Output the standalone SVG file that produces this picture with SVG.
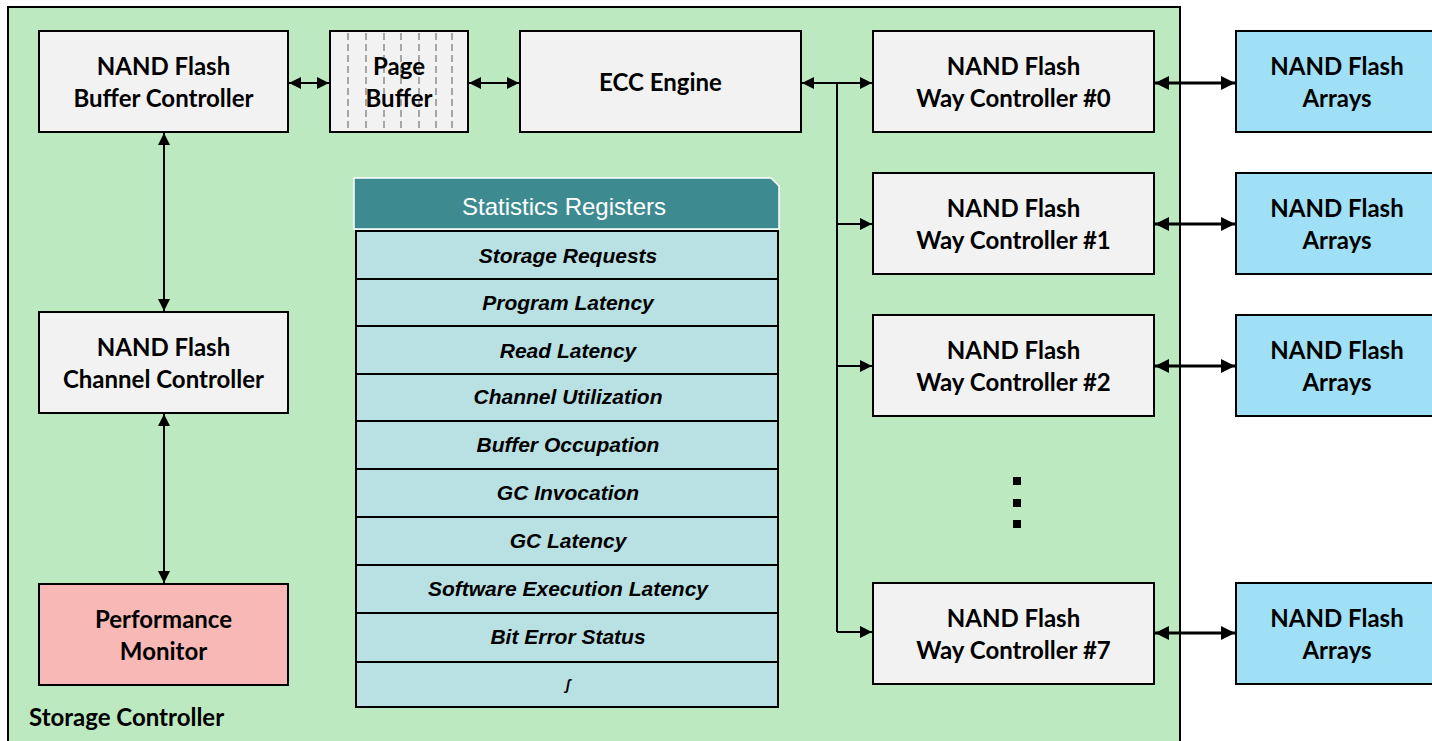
<svg xmlns="http://www.w3.org/2000/svg" width="1432" height="741" viewBox="0 0 1432 741">
<defs>
<marker id="ah" viewBox="0 0 12 12" refX="12" refY="6" markerWidth="12" markerHeight="12" markerUnits="userSpaceOnUse" orient="auto-start-reverse">
<path d="M0,0 L12,6 L0,12 Z" fill="#000"/>
</marker>
<marker id="ahb" viewBox="0 0 14 14" refX="14" refY="7" markerWidth="14" markerHeight="14" markerUnits="userSpaceOnUse" orient="auto-start-reverse">
<path d="M0,0 L14,7 L0,14 Z" fill="#000"/>
</marker>
<style>
.box{fill:#f2f2f2;stroke:#000;stroke-width:2}
.arr{fill:#9fe0f6;stroke:#000;stroke-width:2}
.pm{fill:#f8b8b6;stroke:#000;stroke-width:2}
.t{font-family:Lato,"Liberation Sans",sans-serif;font-weight:bold;font-size:24px;fill:#000;text-anchor:middle}
.r{font-family:"Liberation Sans",Arial,sans-serif;font-weight:bold;font-style:italic;font-size:21px;fill:#000;text-anchor:middle}
.row{fill:#b9e0e3;stroke:#000;stroke-width:2}
.c{fill:none;stroke:#000;stroke-width:2}
.cb{fill:none;stroke:#000;stroke-width:3}
.dash{stroke:#a6a6a6;stroke-width:2;stroke-dasharray:7,4}
</style>
</defs>
<rect width="1432" height="741" fill="#fff"/>
<g id="storage-controller">
<rect x="8" y="7" width="1172" height="745" fill="#bde9c1" stroke="#000" stroke-width="2"/>
<text x="29" y="726" style="font-family:Lato,'Liberation Sans',sans-serif;font-weight:bold;font-size:24px">Storage Controller</text>
</g>
<g id="buffer-controller">
<rect class="box" x="39" y="31" width="249" height="101"/>
<text class="t" x="163.5" y="75">NAND Flash</text>
<text class="t" x="163.5" y="107">Buffer Controller</text>
</g>
<g id="page-buffer">
<rect class="box" x="330" y="31" width="138" height="101"/>
<line class="dash" x1="348" y1="33" x2="348" y2="130"/>
<line class="dash" x1="366" y1="33" x2="366" y2="130"/>
<line class="dash" x1="384" y1="33" x2="384" y2="130"/>
<line class="dash" x1="401" y1="33" x2="401" y2="130"/>
<line class="dash" x1="419" y1="33" x2="419" y2="130"/>
<line class="dash" x1="436" y1="33" x2="436" y2="130"/>
<line class="dash" x1="452" y1="33" x2="452" y2="130"/>
<text class="t" x="399" y="75">Page</text>
<text class="t" x="399" y="107">Buffer</text>
</g>
<g id="ecc-engine">
<rect class="box" x="520" y="31" width="281" height="101"/>
<text class="t" x="660.5" y="91">ECC Engine</text>
</g>
<g id="way0">
<rect class="box" x="873" y="31" width="281" height="101"/>
<text class="t" x="1013.5" y="75">NAND Flash</text>
<text class="t" x="1013.5" y="107">Way Controller #0</text>
</g>
<g id="way1">
<rect class="box" x="873" y="173" width="281" height="101"/>
<text class="t" x="1013.5" y="217">NAND Flash</text>
<text class="t" x="1013.5" y="249">Way Controller #1</text>
</g>
<g id="way2">
<rect class="box" x="873" y="315" width="281" height="101"/>
<text class="t" x="1013.5" y="359">NAND Flash</text>
<text class="t" x="1013.5" y="391">Way Controller #2</text>
</g>
<g id="way7">
<rect class="box" x="873" y="583" width="281" height="101"/>
<text class="t" x="1013.5" y="627">NAND Flash</text>
<text class="t" x="1013.5" y="659">Way Controller #7</text>
</g>
<g id="arrays0">
<rect class="arr" x="1236" y="31" width="200" height="101"/>
<text class="t" x="1337" y="75">NAND Flash</text>
<text class="t" x="1337" y="107">Arrays</text>
</g>
<g id="arrays1">
<rect class="arr" x="1236" y="173" width="200" height="101"/>
<text class="t" x="1337" y="217">NAND Flash</text>
<text class="t" x="1337" y="249">Arrays</text>
</g>
<g id="arrays2">
<rect class="arr" x="1236" y="315" width="200" height="101"/>
<text class="t" x="1337" y="359">NAND Flash</text>
<text class="t" x="1337" y="391">Arrays</text>
</g>
<g id="arrays7">
<rect class="arr" x="1236" y="583" width="200" height="101"/>
<text class="t" x="1337" y="627">NAND Flash</text>
<text class="t" x="1337" y="659">Arrays</text>
</g>
<g id="channel-controller">
<rect class="box" x="39" y="312" width="249" height="101"/>
<text class="t" x="163.5" y="356">NAND Flash</text>
<text class="t" x="163.5" y="388">Channel Controller</text>
</g>
<g id="performance-monitor">
<rect class="pm" x="39" y="584" width="249" height="101"/>
<text class="t" x="163.5" y="628">Performance</text>
<text class="t" x="163.5" y="660">Monitor</text>
</g>
<g id="statistics-registers">
<path d="M354,178 L771,178 L779,186 L779,229 L354,229 Z" fill="#3d8b91" stroke="#fff" stroke-width="1.5"/>
<text x="564" y="215" style="font-family:'Liberation Sans',Arial,sans-serif;font-size:24px;fill:#fff;text-anchor:middle">Statistics Registers</text>
<rect class="row" x="356" y="231" width="422" height="48"/>
<rect class="row" x="356" y="279" width="422" height="47"/>
<rect class="row" x="356" y="326" width="422" height="48"/>
<rect class="row" x="356" y="374" width="422" height="47"/>
<rect class="row" x="356" y="421" width="422" height="48"/>
<rect class="row" x="356" y="469" width="422" height="48"/>
<rect class="row" x="356" y="517" width="422" height="48"/>
<rect class="row" x="356" y="565" width="422" height="48"/>
<rect class="row" x="356" y="613" width="422" height="49"/>
<rect class="row" x="356" y="662" width="422" height="45"/>
<text class="r" x="568" y="263">Storage Requests</text>
<text class="r" x="568" y="310">Program Latency</text>
<text class="r" x="568" y="358">Read Latency</text>
<text class="r" x="568" y="404">Channel Utilization</text>
<text class="r" x="568" y="452">Buffer Occupation</text>
<text class="r" x="568" y="500">GC Invocation</text>
<text class="r" x="568" y="548">GC Latency</text>
<text class="r" x="568" y="596">Software Execution Latency</text>
<text class="r" x="568" y="644">Bit Error Status</text>
<text class="r" x="568" y="690" style="font-size:14px">ʃ</text>
</g>
<g id="ellipsis" fill="#000">
<rect x="1013" y="477" width="8" height="8"/>
<rect x="1013" y="499" width="8" height="8"/>
<rect x="1013" y="520" width="8" height="8"/>
</g>
<g id="connectors">
<line class="c" x1="289" y1="83" x2="329" y2="83" marker-start="url(#ah)" marker-end="url(#ah)"/>
<line class="c" x1="469" y1="83" x2="519" y2="83" marker-start="url(#ah)" marker-end="url(#ah)"/>
<line class="c" x1="802" y1="83" x2="872" y2="83" marker-start="url(#ah)" marker-end="url(#ah)"/>
<path class="c" d="M837,83 L837,632"/>
<line class="c" x1="837" y1="224" x2="872" y2="224" marker-end="url(#ah)"/>
<line class="c" x1="837" y1="366" x2="872" y2="366" marker-end="url(#ah)"/>
<line class="c" x1="837" y1="632" x2="872" y2="632" marker-end="url(#ah)"/>
<line class="c" x1="164" y1="133" x2="164" y2="311" marker-start="url(#ah)" marker-end="url(#ah)"/>
<line class="c" x1="164" y1="414" x2="164" y2="583" marker-start="url(#ah)" marker-end="url(#ah)"/>
<line class="cb" x1="1155" y1="83" x2="1235" y2="83" marker-start="url(#ahb)" marker-end="url(#ahb)"/>
<line class="cb" x1="1155" y1="224" x2="1235" y2="224" marker-start="url(#ahb)" marker-end="url(#ahb)"/>
<line class="cb" x1="1155" y1="366" x2="1235" y2="366" marker-start="url(#ahb)" marker-end="url(#ahb)"/>
<line class="cb" x1="1155" y1="633" x2="1235" y2="633" marker-start="url(#ahb)" marker-end="url(#ahb)"/>
</g>
</svg>
